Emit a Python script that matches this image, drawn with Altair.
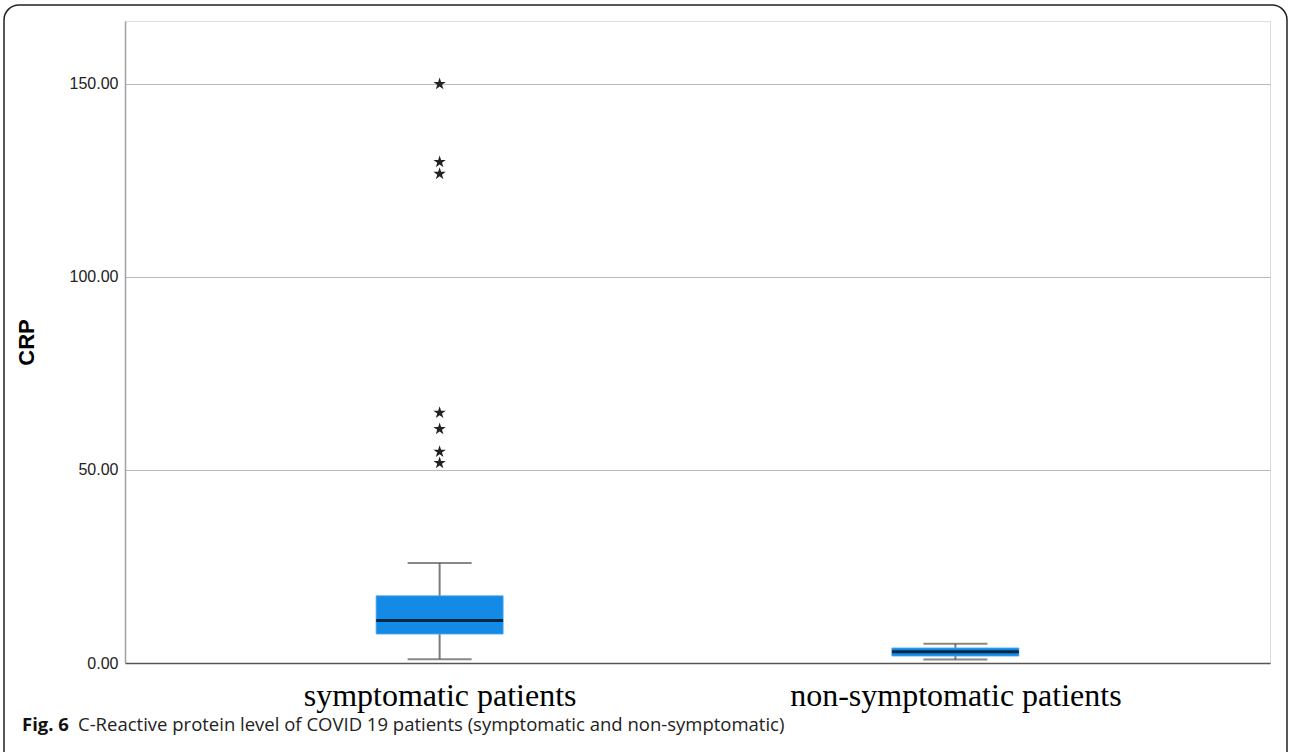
import altair as alt
import pandas as pd

# Box-plot summary of CRP per patient group
groups = ["symptomatic patients", "non-symptomatic patients"]
q1 = [7.5, 1.8]
median = [11.0, 2.9]
q3 = [17.4, 3.9]
whisker_low = [1.0, 0.9]
whisker_high = [25.9, 5.0]

# Extreme values (drawn as stars)
outlier_group = ["symptomatic patients"] * 7
outlier_crp = [150.0, 129.8, 126.7, 64.8, 60.6, 54.7, 51.8]

y_ticks = [0, 50, 100, 150]
caption_label = "Fig. 6"
caption_text = "C-Reactive protein level of COVID 19 patients (symptomatic and non-symptomatic)"

summary = pd.DataFrame({
    "group": groups, "q1": q1, "median": median, "q3": q3,
    "lo": whisker_low, "hi": whisker_high,
})
outliers = pd.DataFrame({"group": outlier_group, "crp": outlier_crp})
caption = pd.DataFrame({"label": [caption_label], "text": [caption_text]})

PLOT_W, PLOT_H = 1145, 642
PAD_L, PAD_T = 125, 21

x_enc = alt.X(
    "group:N", sort=groups,
    scale=alt.Scale(type="point", padding=0.61),
    axis=alt.Axis(
        title=None, labelAngle=0, ticks=False, grid=False,
        domainColor="#555555", domainWidth=1.5, labelLimit=0,
        labelFont="Liberation Serif", labelFontSize=32, labelColor="#000000",
        labelPadding=17,
    ),
)
y_scale = alt.Scale(domain=[0, 166.3], nice=False, zero=True)
y_axis = alt.Axis(
    title="CRP", values=y_ticks, format=".2f", ticks=False,
    grid=True, gridColor="#b9b9b9", gridWidth=1,
    domainColor="#a0a0a0", domainWidth=1.5,
    labelFont="Liberation Sans", labelFontSize=16, labelColor="#222222",
    labelPadding=7,
    titleFont="Liberation Sans", titleFontSize=22, titleFontWeight="bold",
    titleColor="#000000", titleAngle=270, titleX=-87, titleY=PLOT_H / 2,
    titleAlign="center", titleBaseline="bottom",
)

base = alt.Chart(summary)

whisker = base.mark_rule(color="#7c7c7c", strokeWidth=2).encode(
    x=x_enc,
    y=alt.Y("lo:Q", scale=y_scale, axis=y_axis),
    y2="hi:Q",
)
cap_lo = base.mark_tick(color="#555555", thickness=2, size=64).encode(
    x=alt.X("group:N", sort=groups), y="lo:Q"
)
cap_hi = base.mark_tick(color="#555555", thickness=2, size=64).encode(
    x=alt.X("group:N", sort=groups), y="hi:Q"
)
box = base.mark_bar(size=127, color="#138ae6", stroke="#4aa8ee", strokeWidth=0.8).encode(
    x=alt.X("group:N", sort=groups), y="q1:Q", y2="q3:Q"
)
mid = base.mark_tick(color="#000000", thickness=3, size=127).encode(
    x=alt.X("group:N", sort=groups), y="median:Q"
)

STAR = ("M0,-1L0.2245,-0.309L0.951,-0.309L0.363,0.118L0.588,0.809L0,0.382"
        "L-0.588,0.809L-0.363,0.118L-0.951,-0.309L-0.2245,-0.309Z")
stars = alt.Chart(outliers).mark_point(
    shape=STAR, filled=True, size=170, color="#222222", opacity=1
).encode(x=alt.X("group:N", sort=groups), y="crp:Q")

# Rounded figure frame and caption, placed in pixels around the plot area
frame = alt.Chart(caption).mark_rect(
    fill="white", fillOpacity=0, stroke="#222222", strokeWidth=1.5,
    cornerRadius=15, clip=False,
).encode(
    x=alt.value(4 - PAD_L), x2=alt.value(1287 - PAD_L),
    y=alt.value(5 - PAD_T), y2=alt.value(766 - PAD_T),
)
cap_bold = alt.Chart(caption).mark_text(
    align="left", baseline="alphabetic", font="Open Sans", fontSize=18.5,
    fontWeight="bold", color="#111111", clip=False,
).encode(x=alt.value(22 - PAD_L), y=alt.value(731 - PAD_T), text="label:N")
cap_body = alt.Chart(caption).mark_text(
    align="left", baseline="alphabetic", font="Open Sans", fontSize=18.5,
    color="#222222", clip=False,
).encode(x=alt.value(78 - PAD_L), y=alt.value(731 - PAD_T), text="text:N")

chart = alt.layer(
    whisker, cap_lo, cap_hi, box, mid, stars, frame, cap_bold, cap_body
).properties(
    width=PLOT_W, height=PLOT_H,
    autosize=alt.AutoSizeParams(type="none"),
    padding={"left": PAD_L, "top": PAD_T, "right": 1290 - PAD_L - PLOT_W,
             "bottom": 752 - PAD_T - PLOT_H},
).configure_view(stroke=None).configure(background="white")

chart.save("out.html", embed_options={"renderer": "svg", "actions": False})
